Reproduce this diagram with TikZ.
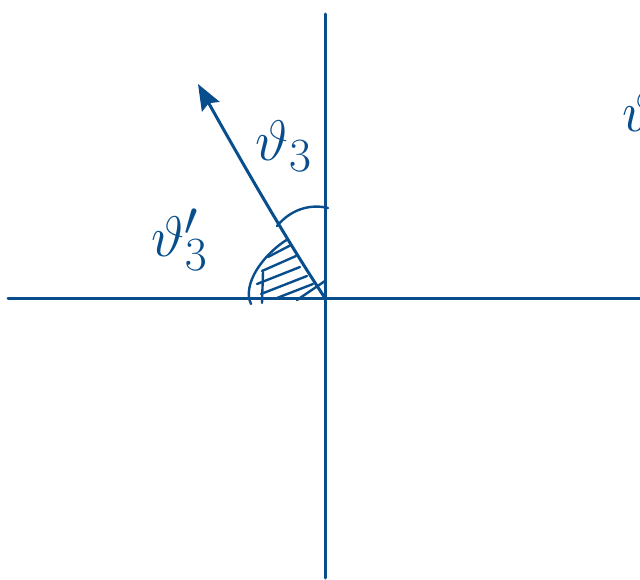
\documentclass[tikz,border=0pt]{standalone}
\usepackage{graphicx}
\usetikzlibrary{arrows.meta}
\definecolor{ink}{RGB}{8,78,140}
\newcommand{\biglbl}[1]{\scalebox{2.3}{\Huge #1}}
\begin{document}
\begin{tikzpicture}[x=1pt,y=-1pt,
  pen/.style={draw=ink,line width=3pt,line cap=round,line join=round},
  thin pen/.style={draw=ink,line width=2.4pt,line cap=round},
  lbl/.style={text=ink,inner sep=0pt}]
\useasboundingbox (0,0) rectangle (640,580);
% axes
\coordinate (xl) at (8,298);
\coordinate (xr) at (640,298);
\coordinate (yt) at (325,14);
\coordinate (yb) at (325,578);
\coordinate (o) at (325,298);
\draw[pen] (xl) -- (xr);
\draw[pen] (yt) -- (yb);
% ray with arrow
\coordinate (tip) at (198,84);
\draw[pen,-{Stealth[length=26pt,width=20pt,inset=4pt]}] (o) .. controls (285,238) and (235,150) .. (tip);
% theta_3 arc
\coordinate (a1) at (277,226);
\coordinate (a2) at (328,208);
\draw[thin pen] (a1) .. controls (292,208) and (312,204) .. (a2);
% hatched sector outline
\coordinate (h1) at (288,239);
\coordinate (h2) at (251,304);
\draw[thin pen] (h1) .. controls (262,255) and (242,285) .. (h2);
\draw[thin pen] (263,272) -- (262,303);
% hatch lines
\draw[thin pen] (268,257) -- (291,245);
\draw[thin pen] (262,271) -- (296,256);
\draw[thin pen] (257,284) -- (300,267);
\draw[thin pen] (261,294) -- (307,276);
\draw[thin pen] (277,298) -- (313,284);
\draw[thin pen] (297,300) -- (325,281);
% labels
\node[lbl] (t3) at (284,146) {\biglbl{$\vartheta_3$}};
\node[lbl] (t3p) at (180,240) {\biglbl{$\vartheta'_3$}};
\node[lbl,anchor=west] (tr) at (622,112) {\biglbl{$\vartheta$}};
\end{tikzpicture}
\end{document}
